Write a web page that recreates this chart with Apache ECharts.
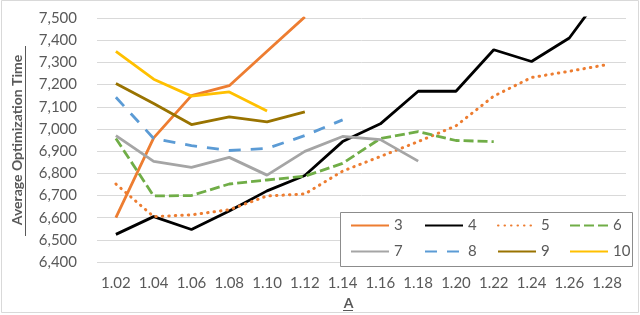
<!DOCTYPE html>
<html>
<head>
<meta charset="utf-8">
<script src="https://cdn.jsdelivr.net/npm/echarts@6/dist/echarts.min.js"></script>
<style>html,body{margin:0;padding:0;background:#fff;}#c{width:640px;height:315px;}</style>
</head>
<body>
<div id="c"></div>
<script>
const categories = ['1.02','1.04','1.06','1.08','1.10','1.12','1.14','1.16','1.18','1.20','1.22','1.24','1.26','1.28'];
const s3 = [6600, 6960, 7150, 7195, 7350, 7505];
const s4 = [6525, 6605, 6547, 6630, 6721, 6790, 6943, 7023, 7170, 7170, 7357, 7304, 7410, 7640];
const s5 = [6752, 6605, 6613, 6636, 6698, 6707, 6810, 6876, 6943, 7014, 7148, 7232, 7260, 7290];
const s6 = [6957, 6698, 6700, 6752, 6770, 6787, 6845, 6957, 6988, 6948, 6943];
const s7 = [6970, 6854, 6827, 6872, 6792, 6899, 6966, 6952, 6855];
const s8 = [7143, 6957, 6925, 6903, 6912, 6970, 7041];
const s9 = [7205, 7115, 7020, 7054, 7032, 7077];
const s10 = [7350, 7224, 7148, 7167, 7081];
const seriesNames = ['3','4','5','6','7','8','9','10'];
const yTicks = {min: 6400, max: 7500, interval: 100};

const FONT = 'Lato';
const TXT = '#595959';

function mk(name, data, color, type, width, cap) {
  return {
    name: name, type: 'line', data: data, symbol: 'none', smooth: false,
    lineStyle: {color: color, width: width || 2.8, type: type || 'solid', cap: cap || 'butt'},
    itemStyle: {color: color}, z: 3
  };
}

const series = [
  mk(seriesNames[0], s3, '#ED7D31', 'solid', 2.8),
  mk(seriesNames[1], s4, '#000000', 'solid', 2.8),
  mk(seriesNames[2], s5, '#ED7D31', [0.5, 6], 3, 'round'),
  mk(seriesNames[3], s6, '#70AD47', [10, 4], 2.8),
  mk(seriesNames[4], s7, '#A5A5A5', 'solid', 2.8),
  mk(seriesNames[5], s8, '#5B9BD5', [12, 10], 2.8),
  mk(seriesNames[6], s9, '#997300', 'solid', 2.8),
  mk(seriesNames[7], s10, '#FFC000', 'solid', 2.8)
];

function leg(names, left) {
  return {
    data: names, orient: 'vertical', left: left, top: 218, padding: 0,
    itemWidth: 38, itemHeight: 14, itemGap: 11, itemTextGap: 3, z: 120,
    itemStyle: {opacity: 0},
    textStyle: {fontFamily: FONT, fontSize: 15, color: TXT}
  };
}

const chart = echarts.init(document.getElementById('c'), null, {renderer: 'canvas'});
chart.setOption({
  animation: false,
  backgroundColor: '#fff',
  grid: {left: 97, right: 14, top: 18, bottom: 50, containLabel: false},
  xAxis: {
    type: 'category', data: categories, boundaryGap: true,
    name: 'A', nameLocation: 'middle', nameGap: 30,
    nameTextStyle: {fontFamily: FONT, fontSize: 14, fontWeight: 'bold', color: TXT, padding: [0, 26, 0, 0]},
    axisLine: {show: false}, axisTick: {show: false},
    axisLabel: {fontFamily: FONT, fontSize: 15, color: TXT, margin: 14, interval: 0}
  },
  yAxis: {
    type: 'value', min: yTicks.min, max: yTicks.max, interval: yTicks.interval,
    name: 'Average Optimization Time', nameLocation: 'middle', nameGap: 73,
    nameTextStyle: {fontFamily: FONT, fontSize: 14, fontWeight: 'bold', color: TXT},
    axisLine: {show: false}, axisTick: {show: false},
    splitLine: {lineStyle: {color: '#D9D9D9', width: 1}},
    axisLabel: {fontFamily: FONT, fontSize: 15, color: TXT, margin: 20,
      formatter: v => v.toLocaleString('en-US')}
  },
  legend: [
    leg(['3','7'], 350),
    leg(['4','8'], 424),
    leg(['5','9'], 497),
    leg(['6','10'], 569)
  ],
  graphic: [
    {type: 'rect', z: 100, shape: {x: 340.5, y: 212.5, width: 292, height: 54},
      style: {fill: '#fff', stroke: '#8C8C8C', lineWidth: 1}},
    {type: 'rect', z: 1, silent: true, shape: {x: 1.5, y: 0.5, width: 637, height: 312},
      style: {fill: 'none', stroke: '#D9D9D9', lineWidth: 1}},
    {type: 'line', z: 100, shape: {x1: 25.5, y1: 46, x2: 25.5, y2: 236},
      style: {stroke: TXT, lineWidth: 1}},
    {type: 'line', z: 100, shape: {x1: 343, y1: 310.5, x2: 353, y2: 310.5},
      style: {stroke: TXT, lineWidth: 1}}
  ],
  series: series
});
</script>
</body>
</html>
